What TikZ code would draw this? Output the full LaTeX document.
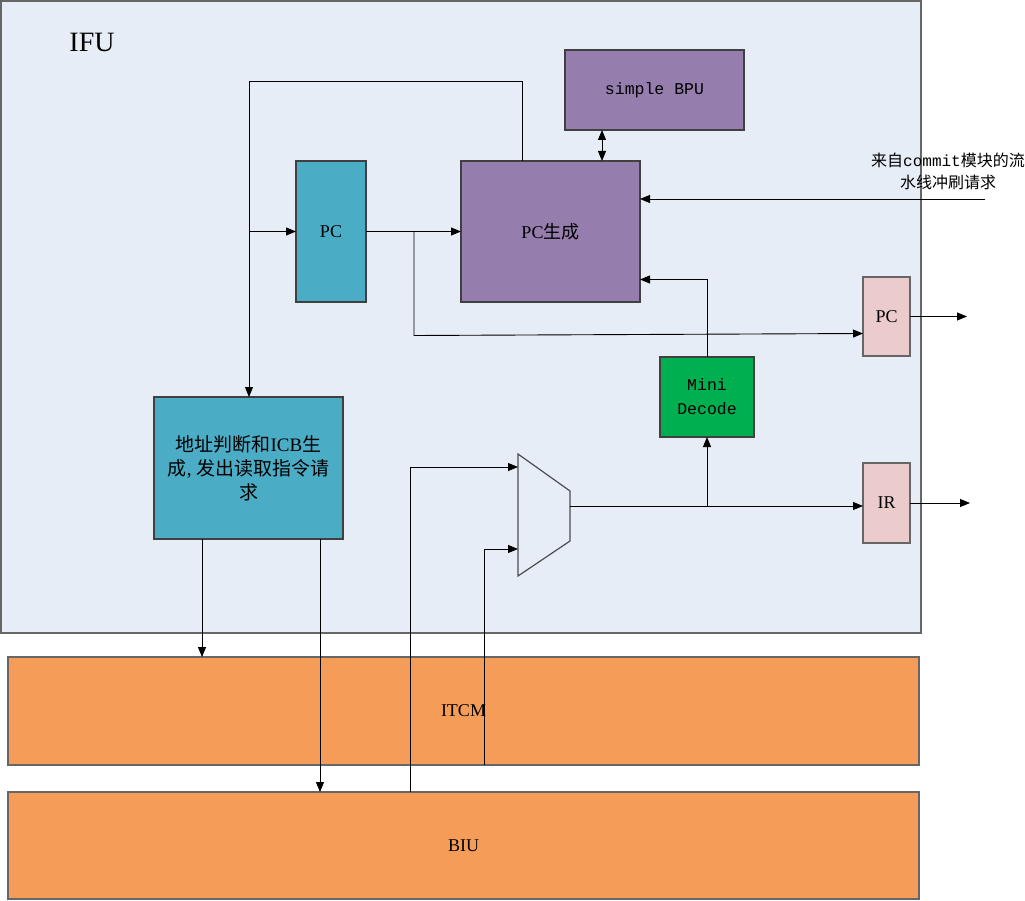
\documentclass[tikz,border=0pt]{standalone}
\usepackage{fontspec}
\setmainfont{Liberation Serif}
\newfontfamily\cjk{Noto Sans CJK SC}
\newfontfamily\monof{Liberation Mono}
\usetikzlibrary{arrows.meta,calc}
\definecolor{ifubg}{HTML}{E7EDF7}
\definecolor{purp}{HTML}{957DAD}
\definecolor{teal2}{HTML}{4BACC6}
\definecolor{grn}{HTML}{00B050}
\definecolor{pnk}{HTML}{EBCBCB}
\definecolor{orng}{HTML}{F59D58}
\definecolor{edge}{HTML}{404040}
\begin{document}
\begin{tikzpicture}[x=1pt,y=-1pt,
  box/.style={draw=edge, line width=1.2pt, rectangle, inner sep=0pt, outer sep=0pt, anchor=north west, align=center},
  arr/.style={-{Triangle[length=10pt,width=8pt]}, line width=0.9pt, draw=black},
  dblarr/.style={{Triangle[length=10pt,width=8pt]}-{Triangle[length=10pt,width=8pt]}, line width=0.9pt, draw=black},
  lbl/.style={font=\fontsize{18}{24}\selectfont},
  albl/.style={font=\fontsize{19}{24}\selectfont},
  mlbl/.style={font=\monof\fontsize{16.5}{24}\selectfont}]
\useasboundingbox (0,0) rectangle (1025,901);
% outer IFU block
\node[box, draw=black!60, fill=ifubg, minimum width=920pt, minimum height=632pt] (ifu) at (1,1) {};
\node[font=\fontsize{28}{30}\selectfont, anchor=center] (ifulbl) at (92,42) {IFU};
% memories
\node[box, draw=black!60, fill=orng, minimum width=911pt, minimum height=108pt, lbl] (itcm) at (8,657) {ITCM};
\node[box, draw=black!60, fill=orng, minimum width=911pt, minimum height=107pt, lbl] (biu) at (8,792) {BIU};
% blocks
\node[box, fill=purp, minimum width=179pt, minimum height=80pt, mlbl] (bpu) at (565,50) {simple BPU};
\node[box, fill=purp, minimum width=179pt, minimum height=141pt, lbl] (pcgen) at (461,161) {PC{\cjk 生成}};
\node[box, fill=teal2, minimum width=70pt, minimum height=141pt, lbl] (pc) at (296,161) {PC};
\node[box, fill=teal2, minimum width=189pt, minimum height=142pt, albl] (addr) at (154,397)
  {{\cjk 地址判断和}ICB{\cjk 生}\\{\cjk 成}, {\cjk 发出读取指令请}\\{\cjk 求}};
\node[box, fill=grn, minimum width=94pt, minimum height=80pt, mlbl] (mini) at (660,357) {Mini\\Decode};
\node[box, draw=black!60, fill=pnk, minimum width=47pt, minimum height=79pt, lbl] (pcout) at (863,277) {PC};
\node[box, draw=black!60, fill=pnk, minimum width=47pt, minimum height=80pt, lbl] (ir) at (863,463) {IR};
% flush request label
\node[font=\fontsize{16}{22}\selectfont, align=center, anchor=center] (flushlbl) at (948,171)
  {{\cjk 来自}{\monof commit}{\cjk 模块的流}\\{\cjk 水线冲刷请求}};
% mux
\coordinate (m1) at (518,454);
\coordinate (m2) at (570,491);
\coordinate (m3) at (570,541);
\coordinate (m4) at (518,576);
\draw[line width=1.2pt, draw=black!70] (m1) -- (m2) -- (m3) -- (m4) -- cycle;
\coordinate (muxin1) at (518,467);
\coordinate (muxin2) at (518,549);
\coordinate (muxout) at (570,506);
% helper coordinates
\coordinate (fbtop) at (522,81);
\coordinate (fbleft) at (249,81);
\coordinate (brx) at (414,0);
\coordinate (bpux) at (602,0);
\coordinate (flushsrc) at (985,199);
\coordinate (pcoutend) at (967,316.5);
\coordinate (iroutend) at (970,503);
\coordinate (a1x) at (202,0);
\coordinate (a2x) at (320,0);
\coordinate (b1x) at (410,0);
\coordinate (i1x) at (484,0);
% connectors
\draw[arr] (pcgen.north -| fbtop) -- (fbtop) -- (fbleft) -- (fbleft |- addr.north);
\draw[arr] (fbleft |- pc.west) -- (pc.west);
\draw[arr] (pc.east) -- (pcgen.west);
\draw[arr] (pc.east -| brx) -- ($(brx |- pcout.west)+(0,19)$) -- ($(pcout.west)+(0,17)$);
\draw[dblarr] (bpu.south -| bpux) -- (pcgen.north -| bpux);
\draw[arr] (flushsrc) -- (flushsrc -| pcgen.east);
\draw[arr] (mini.north) |- ($(pcgen.east)+(0,48)$);
\draw[arr] (muxout) -- (muxout -| ir.west);
\draw[arr] (muxout -| mini.south) -- (mini.south);
\draw[arr] (pcout.east) -- (pcoutend);
\draw[arr] (ir.east) -- (iroutend);
\draw[arr] (addr.south -| a1x) -- (itcm.north -| a1x);
\draw[arr] (addr.south -| a2x) -- (biu.north -| a2x);
\draw[arr] (biu.north -| b1x) |- (muxin1);
\draw[arr] (itcm.south -| i1x) |- (muxin2);
\end{tikzpicture}
\end{document}
